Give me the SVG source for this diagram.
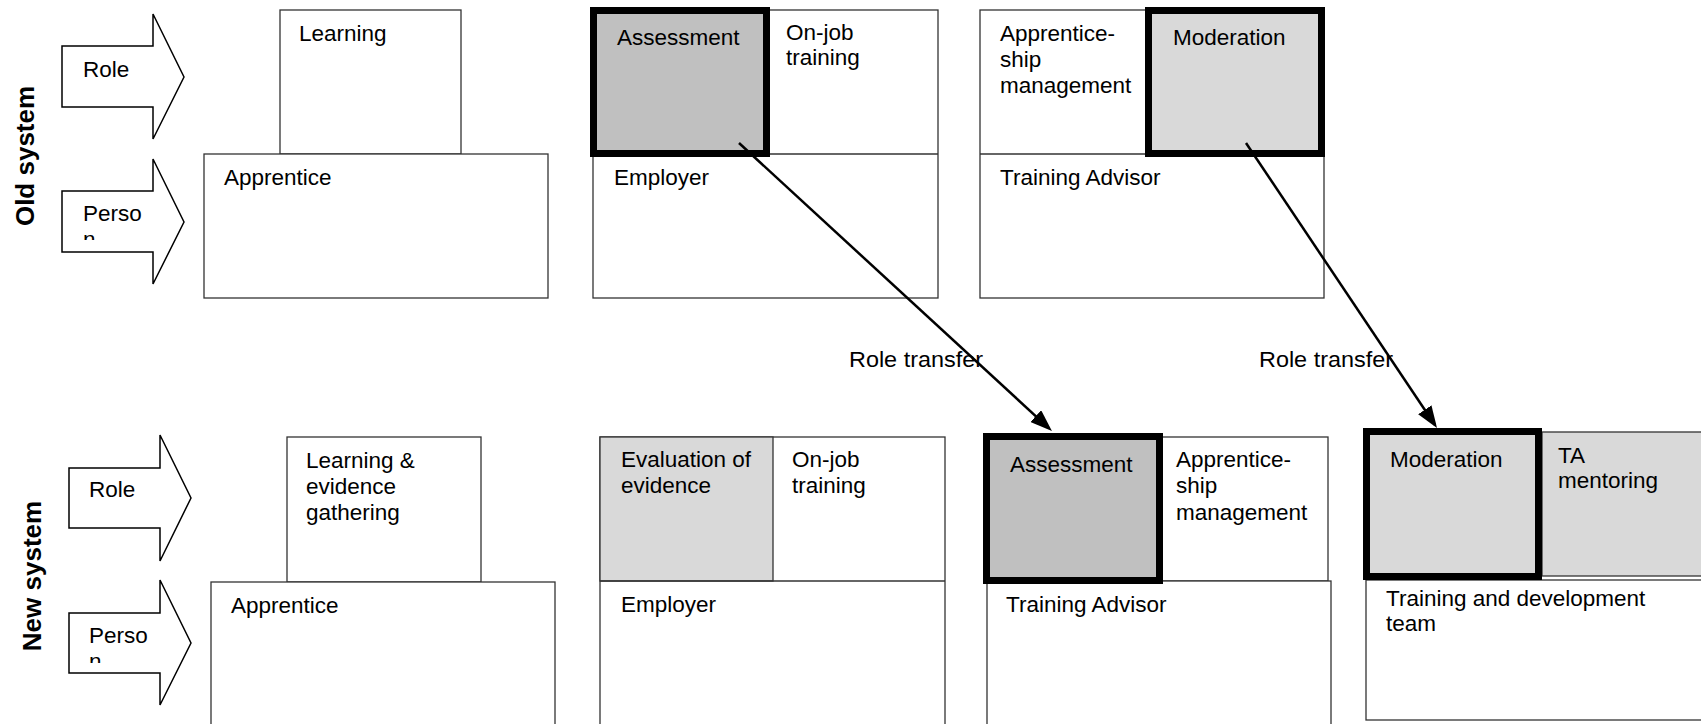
<svg xmlns="http://www.w3.org/2000/svg" width="1701" height="724" viewBox="0 0 1701 724">
<style>
text { font-family: "Liberation Sans", Arial, sans-serif; font-size: 22.5px; fill: #000; }
.title { font-weight: bold; font-size: 26px; }
.box { fill: #fff; stroke: #333; stroke-width: 1.3; }
.grey { fill: #d9d9d9; stroke: #333; stroke-width: 1.3; }
.dark { fill: #c0c0c0; }
.thick { stroke: #000; stroke-width: 7; }
.big { fill: #fff; stroke: #000; stroke-width: 1.5; }
.conn { stroke: #000; stroke-width: 2.5; fill: none; marker-end: url(#ah); }
</style>
<defs>
<marker id="ah" viewBox="0 0 22 16" refX="18" refY="8" markerUnits="userSpaceOnUse" markerWidth="22" markerHeight="16" orient="auto">
<path d="M0,0 L22,8 L0,16 z" fill="#000"/>
</marker>
<clipPath id="clipOld"><rect x="62" y="180" width="92" height="60"/></clipPath>
<clipPath id="clipNew"><rect x="69" y="600" width="92" height="63"/></clipPath>
</defs>

<text class="title" transform="translate(34,156) rotate(-90)" text-anchor="middle">Old system</text>
<text class="title" transform="translate(41,576) rotate(-90)" text-anchor="middle">New system</text>

<g id="old-role-arrow">
<polygon class="big" points="62,46 153,46 153,14 184,77 153,139 153,107 62,107"/>
<text x="83" y="77">Role</text>
</g>
<g id="old-person-arrow">
<polygon class="big" points="62,191 153,191 153,159 184,222 153,284 153,252 62,252"/>
<g clip-path="url(#clipOld)"><text x="83" y="221">Perso</text><text x="83" y="246.5">n</text></g>
</g>

<g id="old-apprentice">
<rect class="box" x="280" y="10" width="181" height="144"/>
<text x="299" y="41">Learning</text>
<rect class="box" x="204" y="154" width="344" height="144"/>
<text x="224" y="185">Apprentice</text>
</g>

<g id="old-employer">
<rect class="box" x="593" y="10" width="345" height="288"/>
<line x1="593" y1="154" x2="938" y2="154" stroke="#333" stroke-width="1.3"/>
<rect class="dark thick" x="593.5" y="10.5" width="173" height="143"/>
<text x="617" y="45">Assessment</text>
<text x="786" y="40">On-job</text>
<text x="786" y="65">training</text>
<text x="614" y="185">Employer</text>
</g>

<g id="old-ta">
<rect class="box" x="980" y="10" width="344" height="288"/>
<line x1="980" y1="154" x2="1324" y2="154" stroke="#333" stroke-width="1.3"/>
<rect class="grey thick" x="1148.5" y="10.5" width="173" height="143"/>
<text x="1173" y="45">Moderation</text>
<text x="1000" y="41">Apprentice-</text>
<text x="1000" y="67">ship</text>
<text x="1000" y="93">management</text>
<text x="1000" y="185">Training Advisor</text>
</g>

<g id="new-role-arrow">
<polygon class="big" points="69,468 160,468 160,435 191,498 160,561 160,528 69,528"/>
<text x="89" y="497">Role</text>
</g>
<g id="new-person-arrow">
<polygon class="big" points="69,613 160,613 160,580 191,643 160,705 160,673 69,673"/>
<g clip-path="url(#clipNew)"><text x="89" y="643">Perso</text><text x="89" y="669">n</text></g>
</g>

<g id="new-apprentice">
<rect class="box" x="287" y="437" width="194" height="145"/>
<text x="306" y="468">Learning &amp;</text>
<text x="306" y="494">evidence</text>
<text x="306" y="520">gathering</text>
<rect class="box" x="211" y="582" width="344" height="160"/>
<text x="231" y="613">Apprentice</text>
</g>

<g id="new-employer">
<rect class="box" x="600" y="437" width="345" height="305"/>
<rect class="grey" x="600" y="437" width="173" height="144"/>
<line x1="600" y1="581" x2="945" y2="581" stroke="#333" stroke-width="1.3"/>
<text x="621" y="467">Evaluation of</text>
<text x="621" y="493">evidence</text>
<text x="792" y="467">On-job</text>
<text x="792" y="493">training</text>
<text x="621" y="612">Employer</text>
</g>

<g id="new-ta">
<rect class="box" x="987" y="437" width="341" height="144"/>
<rect class="box" x="987" y="581" width="344" height="160"/>
<rect class="dark thick" x="986.5" y="436.5" width="173" height="144"/>
<text x="1010" y="472">Assessment</text>
<text x="1176" y="467">Apprentice-</text>
<text x="1176" y="493">ship</text>
<text x="1176" y="520">management</text>
<text x="1006" y="612">Training Advisor</text>
</g>

<g id="new-tdt">
<rect class="box" x="1366" y="580" width="345" height="140"/>
<rect class="grey" x="1542" y="432" width="170" height="144"/>
<rect class="grey thick" x="1366.5" y="431.5" width="172" height="145"/>
<text x="1390" y="467">Moderation</text>
<text x="1558" y="463">TA</text>
<text x="1558" y="488">mentoring</text>
<text x="1386" y="606">Training and development</text>
<text x="1386" y="631">team</text>
</g>

<g id="connectors">
<line class="conn" x1="739" y1="143" x2="1049" y2="428.3"/>
<line class="conn" x1="1246" y1="143" x2="1434.8" y2="424.7"/>
<text x="849" y="367" textLength="134" lengthAdjust="spacingAndGlyphs">Role transfer</text>
<text x="1259" y="367" textLength="134" lengthAdjust="spacingAndGlyphs">Role transfer</text>
</g>
</svg>
